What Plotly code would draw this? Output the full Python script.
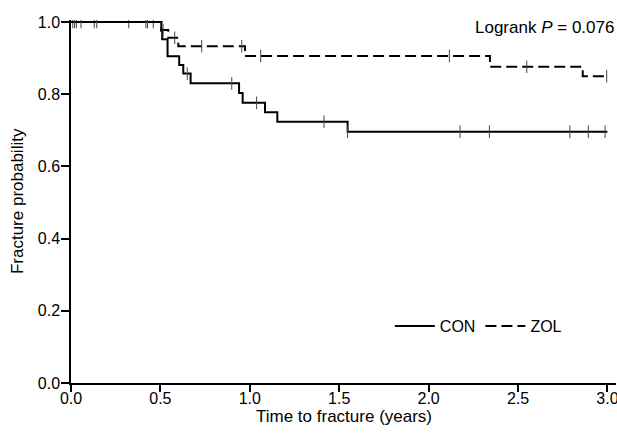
import numpy as np
import plotly.graph_objects as go

# ---- data ----
con_event_times = [0.505, 0.51, 0.54, 0.605, 0.628, 0.669, 0.94, 0.96, 1.085, 1.154, 1.547]
con_surv = [0.976, 0.952, 0.905, 0.881, 0.857, 0.830, 0.803, 0.776, 0.750, 0.724, 0.696]
con_censor_times = [0.01, 0.03, 0.13, 0.323, 0.46, 0.65, 0.899, 1.038, 1.415, 1.547,
                    2.176, 2.34, 2.79, 2.893, 2.987]

zol_event_times = [0.505, 0.544, 0.60, 0.973, 2.343, 2.862]
zol_surv = [0.978, 0.956, 0.933, 0.906, 0.876, 0.850]
zol_censor_times = [0.02, 0.056, 0.144, 0.419, 0.428, 0.515, 0.58, 0.731, 0.955, 1.061,
                    2.116, 2.549, 2.996]

end_time = 3.0
x_ticks = [0.0, 0.5, 1.0, 1.5, 2.0, 2.5, 3.0]
y_ticks = [0.0, 0.2, 0.4, 0.6, 0.8, 1.0]
series_names = ["CON", "ZOL"]
x_title = "Time to fracture (years)"
y_title = "Fracture probability"
pvalue_text = "Logrank <i>P</i> = 0.076"


def step_xy(times, surv):
    xs = [0.0] + list(times) + [end_time]
    ys = [1.0] + list(surv) + [surv[-1]]
    return xs, ys


def surv_at(times, surv, t):
    idx = np.searchsorted(np.array(times), t, side="right")
    return 1.0 if idx == 0 else surv[idx - 1]


FONT = "Liberation Sans, Arial, sans-serif"
fig = go.Figure()

for name, times, surv, cens, dash in [
    (series_names[0], con_event_times, con_surv, con_censor_times, "solid"),
    (series_names[1], zol_event_times, zol_surv, zol_censor_times, "11px,5px"),
]:
    xs, ys = step_xy(times, surv)
    fig.add_trace(go.Scatter(
        x=xs, y=ys, mode="lines", name=name, line_shape="hv",
        line=dict(color="black", width=2, dash=dash),
    ))
    fig.add_trace(go.Scatter(
        x=cens, y=[surv_at(times, surv, t) for t in cens], mode="markers",
        showlegend=False, hoverinfo="skip",
        marker=dict(symbol="line-ns", size=9, line=dict(color="#444", width=1)),
    ))

fig.add_annotation(
    text=pvalue_text, xref="paper", yref="paper", x=0.738, y=0.978,
    xanchor="left", yanchor="middle", showarrow=False,
    font=dict(family=FONT, size=17, color="black"),
)
fig.add_annotation(
    text=x_title, xref="paper", yref="paper", x=0.5, y=-0.092,
    xanchor="center", yanchor="middle", showarrow=False,
    font=dict(family=FONT, size=17, color="black"),
)
fig.add_annotation(
    text=y_title, xref="paper", yref="paper", x=-0.098, y=0.5, textangle=-90,
    xanchor="center", yanchor="middle", showarrow=False,
    font=dict(family=FONT, size=17, color="black"),
)

fig.update_layout(
    width=617, height=435,
    margin=dict(l=71, r=1, t=20, b=52),
    paper_bgcolor="white", plot_bgcolor="white",
    font=dict(family=FONT, size=16, color="black"),
    legend=dict(orientation="h", x=0.585, y=0.157, xanchor="left", yanchor="middle",
                font=dict(family=FONT, size=16, color="black"),
                bgcolor="rgba(0,0,0,0)", itemwidth=40, tracegroupgap=0),
)
fig.update_xaxes(
    range=[0, 3.048], tickvals=x_ticks, tickformat=".1f",
    showline=True, linecolor="black", linewidth=1.5, mirror=False,
    ticks="outside", ticklen=7, tickwidth=1.5, tickcolor="black",
    showgrid=False, zeroline=False, ticklabeloverflow="allow", ticklabelstandoff=-7,
    tickfont=dict(family=FONT, size=16, color="black"),
    automargin=False,
)
fig.update_yaxes(
    range=[0, 1.0055], tickvals=y_ticks, tickformat=".1f",
    showline=True, linecolor="black", linewidth=1.5, mirror=False,
    ticks="outside", ticklen=8, tickwidth=1.5, tickcolor="black",
    showgrid=False, zeroline=False, ticklabelstandoff=-2,
    tickfont=dict(family=FONT, size=16, color="black"),
    automargin=False,
)

fig.write_html("out.html",
               config={"displayModeBar": False},
               post_script="document.body.style.margin='0';document.body.style.overflow='hidden';")
